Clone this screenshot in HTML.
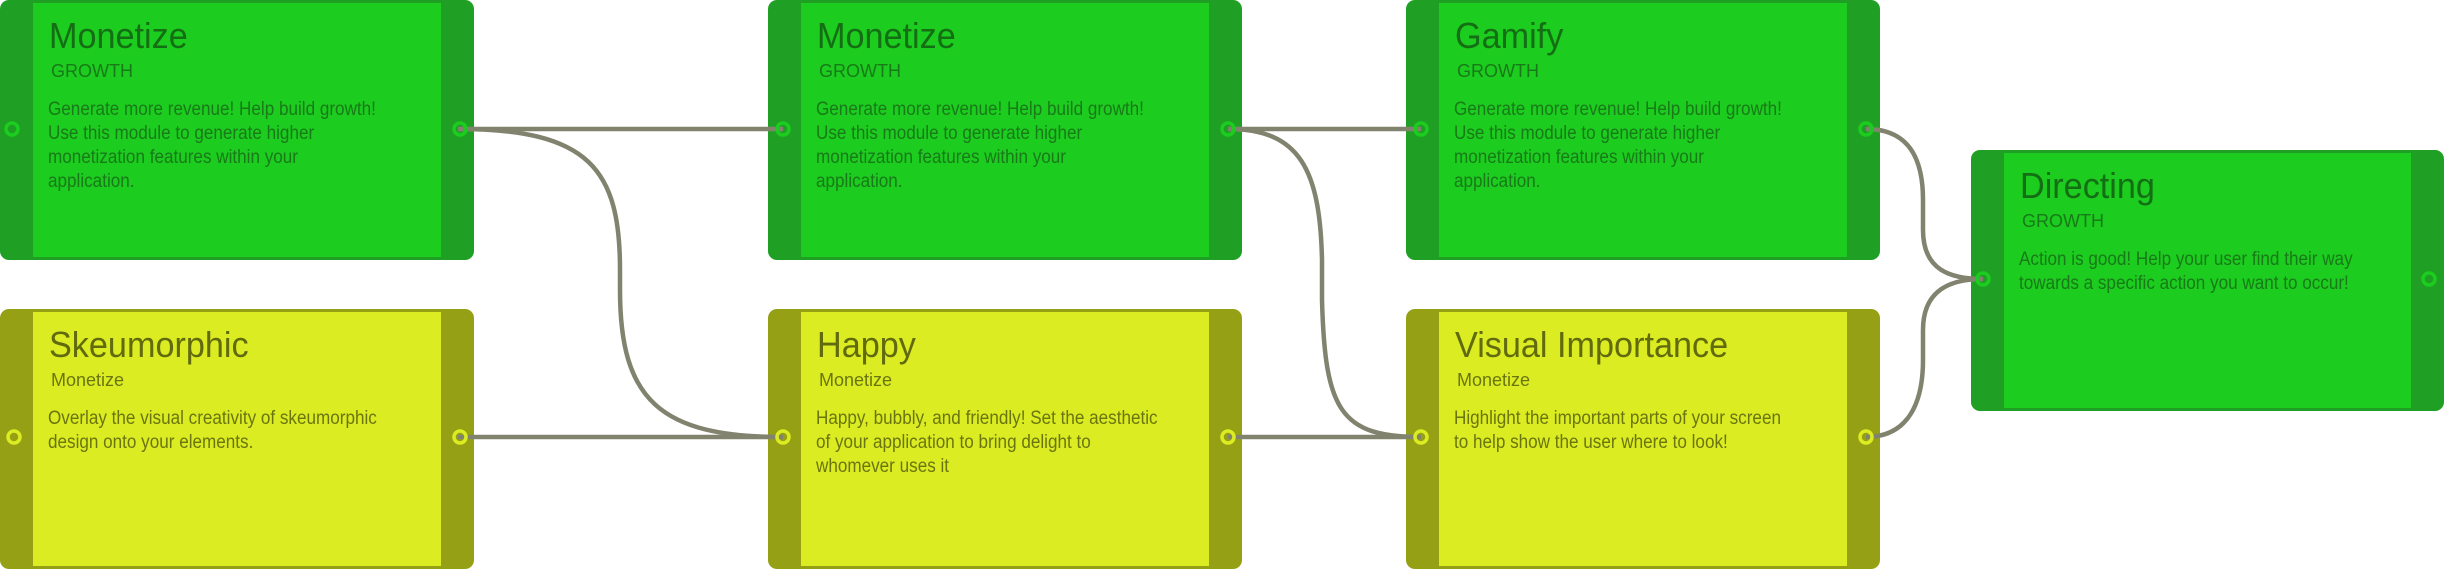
<!DOCTYPE html>
<html><head><meta charset="utf-8"><style>
html,body{margin:0;padding:0;background:#fff;width:2445px;height:570px;overflow:hidden;position:relative;font-family:"Liberation Sans",sans-serif}
.card{position:absolute;width:474px;height:260px;border-radius:9px;overflow:hidden}
.card .in{position:absolute;left:33px;right:33px;top:3px;bottom:3px}
.g{background:#1fa024}.g .in{background:#1ccc1f}
.y{background:#96a015}.y .in{background:#dbec22}
.t{position:absolute;left:49px;top:14px;font-size:36px;line-height:44px;white-space:nowrap;transform:scaleX(0.95);transform-origin:left}
.s{position:absolute;left:51px;top:59px;font-size:18px;line-height:24px;white-space:nowrap}
.b{position:absolute;left:48px;top:98px;font-size:19px;line-height:24px;white-space:nowrap;transform:scaleX(0.9);transform-origin:left top}
.g .t{color:#146e14}.g .s,.g .b{color:#187a18}
.y .t{color:#616a0e}.y .s,.y .b{color:#6b7510}
svg{position:absolute;left:0;top:0}
</style></head><body>
<div class="card g" style="left:0;top:0"><div class="in"></div><div class="t">Monetize</div><div class="s">GROWTH</div><div class="b">Generate more revenue! Help build growth!<br>Use this module to generate higher<br>monetization features within your<br>application.</div></div>
<div class="card g" style="left:768px;top:0"><div class="in"></div><div class="t">Monetize</div><div class="s">GROWTH</div><div class="b">Generate more revenue! Help build growth!<br>Use this module to generate higher<br>monetization features within your<br>application.</div></div>
<div class="card g" style="left:1406px;top:0"><div class="in"></div><div class="t">Gamify</div><div class="s">GROWTH</div><div class="b">Generate more revenue! Help build growth!<br>Use this module to generate higher<br>monetization features within your<br>application.</div></div>
<div class="card y" style="left:0;top:309px"><div class="in"></div><div class="t">Skeumorphic</div><div class="s">Monetize</div><div class="b">Overlay the visual creativity of skeumorphic<br>design onto your elements.</div></div>
<div class="card y" style="left:768px;top:309px"><div class="in"></div><div class="t">Happy</div><div class="s">Monetize</div><div class="b">Happy, bubbly, and friendly! Set the aesthetic<br>of your application to bring delight to<br>whomever uses it</div></div>
<div class="card y" style="left:1406px;top:309px"><div class="in"></div><div class="t">Visual Importance</div><div class="s">Monetize</div><div class="b">Highlight the important parts of your screen<br>to help show the user where to look!</div></div>
<div class="card g" style="left:1971px;top:150px;width:473px;height:261px"><div class="in"></div><div class="t">Directing</div><div class="s">GROWTH</div><div class="b">Action is good! Help your user find their way<br>towards a specific action you want to occur!</div></div>
<svg width="2445" height="570" viewBox="0 0 2445 570">
<g fill="none" stroke="#82836f" stroke-width="4.5">
<path d="M458,129 L783,129"/>
<path d="M458,129 C590,129 620,170 620,270 L620,290 C620,400 660,437 783,437"/>
<path d="M458,437 L783,437"/>
<path d="M1228,129 L1421,129"/>
<path d="M1228,129 C1300,129 1320,170 1322,260 L1322,300 C1325,410 1340,437 1421,437"/>
<path d="M1228,437 L1421,437"/>
<path d="M1866,129 C1910,129 1923,160 1923,200 L1923,230 C1923,270 1950,279 1983,279"/>
<path d="M1866,437 C1910,437 1923,400 1923,360 L1923,330 C1923,290 1950,279 1983,279"/>
</g>
<g fill="none" stroke-width="3.5">
<circle cx="12" cy="129" r="6" stroke="#1ccc1f"/>
<circle cx="460" cy="129" r="6" stroke="#1ccc1f"/>
<circle cx="783" cy="129" r="6" stroke="#1ccc1f"/>
<circle cx="1228" cy="129" r="6" stroke="#1ccc1f"/>
<circle cx="1421" cy="129" r="6" stroke="#1ccc1f"/>
<circle cx="1866" cy="129" r="6" stroke="#1ccc1f"/>
<circle cx="1983" cy="279" r="6" stroke="#1ccc1f"/>
<circle cx="2429" cy="279" r="6" stroke="#1ccc1f"/>
<circle cx="14" cy="437" r="6" stroke="#dbec22"/>
<circle cx="460" cy="437" r="6" stroke="#dbec22"/>
<circle cx="783" cy="437" r="6" stroke="#dbec22"/>
<circle cx="1228" cy="437" r="6" stroke="#dbec22"/>
<circle cx="1421" cy="437" r="6" stroke="#dbec22"/>
<circle cx="1866" cy="437" r="6" stroke="#dbec22"/>
</g>
</svg>
</body></html>
